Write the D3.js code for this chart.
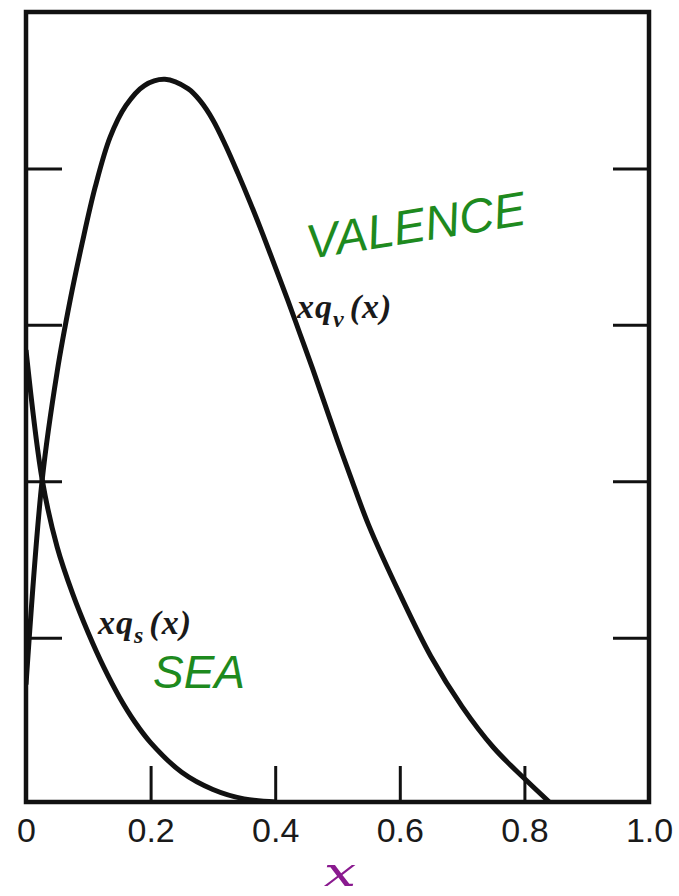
<!DOCTYPE html>
<html>
<head>
<meta charset="utf-8">
<script src="https://cdn.jsdelivr.net/npm/d3@7"></script>
<style>
  html, body { margin: 0; padding: 0; background: #fff; }
  svg { display: block; }
</style>
</head>
<body>
<svg id="chart" width="679" height="896"></svg>
<script>
// Momentum fraction x and distributions x·q(x)
const xTicks = [0, 0.2, 0.4, 0.6, 0.8, 1.0];
const xTickLabels = ["0", "0.2", "0.4", "0.6", "0.8", "1.0"];
const yTicks = [1, 2, 3, 4];

// valence quark distribution x·q_v(x)
const valenceX = [0, 0.026, 0.05, 0.071, 0.09, 0.111, 0.135, 0.16, 0.19, 0.223, 0.26, 0.28, 0.30, 0.32, 0.34, 0.36, 0.38, 0.40, 0.42, 0.44, 0.46, 0.48, 0.50, 0.52, 0.55, 0.60, 0.65, 0.70, 0.75, 0.80, 0.84];
const valenceY = [0.70, 2.01, 2.70, 3.16, 3.52, 3.88, 4.20, 4.40, 4.53, 4.57, 4.51, 4.43, 4.31, 4.15, 3.97, 3.78, 3.58, 3.37, 3.16, 2.94, 2.72, 2.49, 2.26, 2.04, 1.72, 1.28, 0.88, 0.56, 0.30, 0.10, -0.05];

// sea quark distribution x·q_s(x)
const seaX = [0, 0.026, 0.05, 0.075, 0.10, 0.125, 0.15, 0.175, 0.20, 0.25, 0.30, 0.35, 0.40];
const seaY = [2.84, 2.01, 1.58, 1.28, 1.03, 0.81, 0.62, 0.46, 0.33, 0.14, 0.03, -0.03, -0.05];

const svg = d3.select("#chart");
const plotLeft = 26, plotRight = 649, plotTop = 12, plotBottom = 802;

const x = d3.scaleLinear().domain([0, 1]).range([plotLeft, plotRight]);
const y = d3.scaleLinear().domain([-0.05, 5]).range([plotBottom, plotTop]);

const tickLen = 36;

svg.append("defs").append("clipPath").attr("id", "plot-area")
  .append("rect")
  .attr("x", plotLeft).attr("y", plotTop)
  .attr("width", plotRight - plotLeft).attr("height", plotBottom - plotTop);

// bottom axis: ticks pointing up into the plot, labels below
const xAxis = d3.axisBottom(x)
  .tickValues(xTicks)
  .tickFormat((d, i) => xTickLabels[i])
  .tickSizeInner(-tickLen)
  .tickSizeOuter(0)
  .tickPadding(14);

const gx = svg.append("g")
  .attr("transform", `translate(0,${plotBottom})`)
  .call(xAxis);
gx.select(".domain").remove();
gx.selectAll(".tick line").attr("stroke", "#111").attr("stroke-width", 3);
gx.selectAll(".tick text")
  .attr("fill", "#1a1a1a")
  .attr("font-family", "'Liberation Sans', Arial, sans-serif")
  .attr("font-size", 34)
  .attr("y", 16)
  .attr("dy", "0.71em");

// left and right axes: unlabeled inward ticks
const yLeft = d3.axisLeft(y).tickValues(yTicks).tickFormat("").tickSizeInner(-tickLen).tickSizeOuter(0);
const gyl = svg.append("g").attr("transform", `translate(${plotLeft},0)`).call(yLeft);
gyl.select(".domain").remove();
gyl.selectAll(".tick line").attr("stroke", "#111").attr("stroke-width", 3);

const yRight = d3.axisRight(y).tickValues(yTicks).tickFormat("").tickSizeInner(-tickLen).tickSizeOuter(0);
const gyr = svg.append("g").attr("transform", `translate(${plotRight},0)`).call(yRight);
gyr.select(".domain").remove();
gyr.selectAll(".tick line").attr("stroke", "#111").attr("stroke-width", 3);

// curves
const line = d3.line().x(d => x(d[0])).y(d => y(d[1])).curve(d3.curveCatmullRom.alpha(0.5));
const valence = d3.zip(valenceX, valenceY);
const sea = d3.zip(seaX, seaY);

const curves = svg.append("g").attr("clip-path", "url(#plot-area)");
curves.append("path").datum(valence)
  .attr("d", line).attr("fill", "none")
  .attr("stroke", "#111").attr("stroke-width", 5).attr("stroke-linejoin", "round");
curves.append("path").datum(sea)
  .attr("d", line).attr("fill", "none")
  .attr("stroke", "#111").attr("stroke-width", 5).attr("stroke-linejoin", "round");

// frame
svg.append("rect")
  .attr("x", plotLeft).attr("y", plotTop)
  .attr("width", plotRight - plotLeft).attr("height", plotBottom - plotTop)
  .attr("fill", "none").attr("stroke", "#111").attr("stroke-width", 4.5);

// curve labels
function mathLabel(px, py, sub) {
  const t = svg.append("text")
    .attr("x", px).attr("y", py)
    .attr("font-family", "'Liberation Serif', 'Times New Roman', serif")
    .attr("font-style", "italic").attr("font-weight", "bold")
    .attr("font-size", 34).attr("letter-spacing", 1).attr("fill", "#1a1a1a");
  t.append("tspan").text("xq");
  t.append("tspan").attr("font-size", 24).attr("dy", 9).text(sub);
  t.append("tspan").attr("dy", -9).attr("dx", 5).text("(x)");
}
mathLabel(297, 318, "v");
mathLabel(98, 634, "s");

// handwritten annotations
svg.append("text")
  .attr("transform", "translate(309,259) rotate(-9)")
  .attr("font-family", "'Liberation Sans', Arial, sans-serif")
  .attr("font-style", "italic")
  .attr("font-size", 48)
  .attr("fill", "#1e8a1e")
  .text("VALENCE");

svg.append("text")
  .attr("x", 153).attr("y", 688)
  .attr("font-family", "'Liberation Sans', Arial, sans-serif")
  .attr("font-style", "italic")
  .attr("font-size", 46)
  .attr("fill", "#1e8a1e")
  .text("SEA");

// axis title
svg.append("text")
  .attr("transform", "translate(340,886) scale(1.6,1.15)")
  .attr("text-anchor", "middle")
  .attr("font-family", "'DejaVu Serif', serif")
  .attr("font-style", "italic")
  .attr("font-size", 36)
  .attr("fill", "#8a1a8f")
  .text("x");
</script>
</body>
</html>
